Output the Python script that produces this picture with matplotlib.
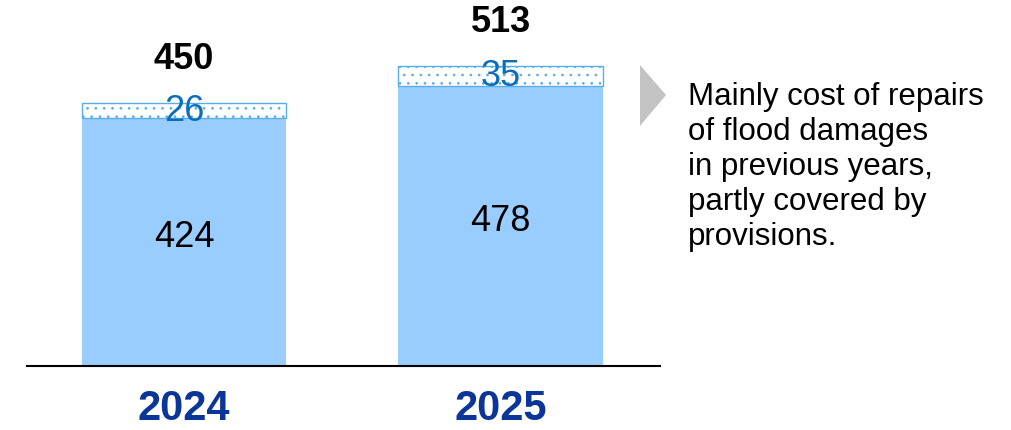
import matplotlib
matplotlib.use("Agg")
import matplotlib.pyplot as plt
from matplotlib.patches import Polygon

years = ["2024", "2025"]
base_values = [424, 478]
extra_values = [26, 35]
totals = [450, 513]
note_text = "Mainly cost of repairs\nof flood damages\nin previous years,\npartly covered by\nprovisions."

plt.rcParams['font.family'] = ['Liberation Sans', 'DejaVu Sans']
plt.rcParams['hatch.color'] = '#a9bfe0'
plt.rcParams['hatch.linewidth'] = 0.7

fig = plt.figure(figsize=(10.11, 4.31), dpi=100)
ax = fig.add_axes([27/1011, 64/431, 633/1011, 367/431])

x = list(range(len(years)))
w = 0.645
ax.bar(x, base_values, width=w, color='#99ccff', edgecolor='none', zorder=2)
ax.bar(x, extra_values, bottom=base_values, width=w, color='white',
       edgecolor='#5aaee8', linewidth=1.0, hatch='..', zorder=2)

for xi, b, e, t in zip(x, base_values, extra_values, totals):
    ax.text(xi, b * 0.52, str(b), ha='center', va='center', fontsize=26, color='black', zorder=3)
    ax.text(xi, b + e / 2, str(e), ha='center', va='center', fontsize=26, color='#0a6ebd', zorder=3)
    ax.text(xi, t + 45, str(t), ha='center', va='bottom', fontsize=26, fontweight='bold', color='black')

ax.set_xlim(-0.496, 1.504)
ax.set_ylim(0, 627)
ax.set_xticks(x)
ax.set_xticklabels(years, fontsize=30, fontweight='bold', color='#0b3597')
ax.tick_params(axis='x', length=0, pad=16)
ax.set_yticks([])
for s in ['top', 'right', 'left']:
    ax.spines[s].set_visible(False)
ax.spines['bottom'].set_linewidth(1.5)
ax.spines['bottom'].set_color('black')

# arrow triangle
tri = Polygon([[640/1011, 1 - 66/431], [640/1011, 1 - 127/431], [666/1011, 1 - 96/431]],
              closed=True, transform=fig.transFigure, facecolor='#c3c3c3', edgecolor='none')
fig.patches.append(tri)

fig.text(688/1011, 1 - 82/431, note_text, ha='left', va='top', fontsize=22.5,
         color='black', linespacing=1.22)

fig.savefig("out.png", dpi=100)
